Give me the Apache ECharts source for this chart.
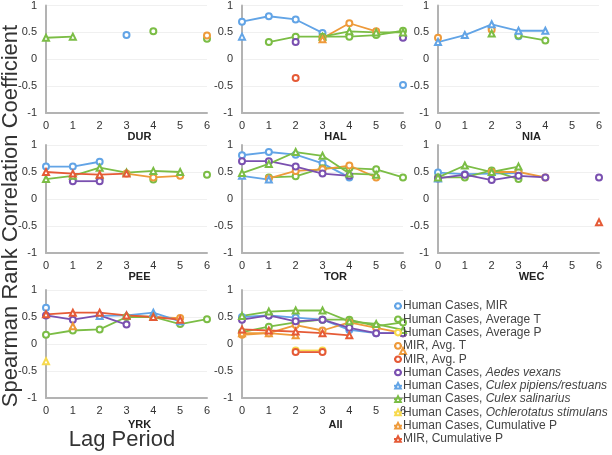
<!DOCTYPE html>
<html>
<head>
<meta charset="utf-8">
<title>Spearman lag panels</title>
<script src="https://cdn.jsdelivr.net/npm/echarts@6/dist/echarts.min.js"></script>
<style>
  html, body { margin: 0; padding: 0; background: #fff; }
  #chart { width: 612px; height: 455px; }
</style>
</head>
<body>
<div id="chart"></div>
<script>
// panels: DUR, HAL, NIA, PEE, TOR, WEC, YRK, All ; columns = lag 0..6
var panels = ['DUR', 'HAL', 'NIA', 'PEE', 'TOR', 'WEC', 'YRK', 'All'];
var lags = [0, 1, 2, 3, 4, 5, 6];
var n = null;

// circles
var hcMIR = [
  [n, n, n, 0.45, n, n, n],
  [0.70, 0.80, 0.74, 0.49, n, n, -0.48],
  [n, n, n, 0.43, n, n, n],
  [0.60, 0.60, 0.69, n, n, n, n],
  [0.81, 0.87, 0.82, 0.66, 0.40, n, n],
  [0.49, 0.46, 0.47, 0.48, n, n, n],
  [0.67, n, n, n, n, n, n],
  [0.50, 0.53, 0.49, 0.45, 0.26, 0.20, 0.20]
];
var hcAvgT = [
  [n, n, n, n, 0.52, n, 0.38],
  [n, 0.32, 0.42, 0.42, 0.42, 0.45, 0.53],
  [n, n, n, 0.44, 0.35, n, n],
  [n, n, 0.38, n, 0.36, n, 0.45],
  [n, 0.40, 0.42, 0.57, 0.57, 0.55, 0.40],
  [0.40, 0.40, 0.53, 0.37, n, n, n],
  [0.17, 0.25, 0.27, 0.50, 0.50, 0.37, 0.46],
  [0.22, 0.32, 0.40, 0.45, 0.45, 0.33, 0.40]
];
var hcAvgP = [
  [n, n, n, n, n, n, n],
  [n, n, n, n, n, n, n],
  [n, n, n, n, n, n, n],
  [n, n, n, n, n, n, n],
  [n, n, n, n, n, n, n],
  [n, n, n, n, n, n, n],
  [n, n, n, n, n, n, n],
  [n, n, -0.12, -0.12, n, n, n]
];
var mirAvgT = [
  [n, n, n, n, n, n, 0.44],
  [n, n, n, 0.39, 0.67, 0.52, n],
  [0.40, n, 0.55, n, n, n, n],
  [n, n, n, 0.47, 0.40, 0.43, n],
  [n, 0.38, 0.52, 0.55, 0.62, 0.40, n],
  [n, n, 0.50, 0.50, 0.40, n, n],
  [n, n, n, n, 0.50, 0.48, n],
  [0.17, 0.20, 0.35, 0.25, 0.40, 0.30, 0.20]
];
var mirAvgP = [
  [n, n, n, n, n, n, n],
  [n, n, -0.35, n, n, n, n],
  [n, n, n, n, n, n, n],
  [n, n, n, n, n, n, n],
  [n, n, n, n, n, n, n],
  [n, n, n, n, n, n, n],
  [n, n, n, n, n, n, n],
  [n, n, -0.15, -0.15, n, n, n]
];
var hcAedes = [
  [n, n, n, n, n, n, n],
  [n, n, 0.32, n, n, n, 0.40],
  [n, n, n, n, n, n, n],
  [n, 0.33, 0.33, n, n, n, n],
  [0.70, 0.70, 0.60, 0.47, 0.43, n, n],
  [0.38, 0.45, 0.35, 0.43, 0.40, n, 0.40],
  [0.53, 0.45, 0.53, 0.36, n, n, n],
  [0.45, 0.53, 0.42, 0.45, 0.30, 0.20, 0.20]
];
// triangles
var hcCulexPip = [
  [n, n, n, n, n, n, n],
  [0.42, n, n, n, n, n, n],
  [0.32, 0.45, 0.65, 0.53, 0.53, n, n],
  [n, n, n, n, n, n, n],
  [0.43, 0.36, n, n, n, n, n],
  [0.38, n, n, n, n, n, n],
  [n, n, 0.52, 0.53, 0.58, 0.42, n],
  [n, n, n, n, n, n, n]
];
var hcCulexSal = [
  [0.40, 0.42, n, n, n, n, n],
  [n, n, n, 0.42, 0.52, 0.50, 0.50],
  [n, n, 0.48, n, n, n, n],
  [0.37, 0.43, 0.58, 0.49, 0.52, 0.50, n],
  [0.48, 0.65, 0.87, 0.80, 0.47, 0.45, n],
  [0.40, 0.62, 0.50, 0.60, n, n, n],
  [n, n, n, 0.52, 0.50, n, n],
  [0.52, 0.60, 0.62, 0.62, 0.42, 0.37, 0.26]
];
var hcOchl = [
  [n, n, n, n, n, n, n],
  [n, n, n, n, n, n, n],
  [n, n, n, n, n, n, n],
  [n, n, n, n, n, n, n],
  [n, n, n, n, n, n, n],
  [n, n, n, n, n, n, n],
  [-0.32, n, n, n, n, n, n],
  [n, n, n, n, n, n, n]
];
var hcCumP = [
  [n, n, n, n, n, n, n],
  [n, n, n, 0.37, n, n, n],
  [n, n, n, n, n, n, n],
  [n, n, n, n, n, n, n],
  [n, n, n, n, n, n, n],
  [n, n, n, n, n, n, n],
  [n, 0.33, n, n, n, n, n],
  [0.20, 0.20, 0.16, n, n, n, -0.13]
];
var mirCumP = [
  [n, n, n, n, n, n, n],
  [n, n, n, n, n, n, n],
  [n, n, n, n, n, n, n],
  [0.50, 0.47, 0.45, 0.47, n, n, n],
  [n, n, n, n, n, n, n],
  [n, n, n, n, n, n, -0.43],
  [0.55, 0.58, 0.58, 0.53, 0.50, 0.45, n],
  [0.27, 0.25, 0.23, 0.20, 0.16, n, n]
];

var BLUE = '#62a4e6', GREEN = '#7bbd45', YELLOW = '#f7d94c', ORANGE = '#ee9a3a', RED = '#e55a36', PURPLE = '#7a50b0';

var seriesDefs = [
  { name: 'Human Cases, MIR', data: hcMIR, color: BLUE, sym: 'emptyCircle' },
  { name: 'Human Cases, Average T', data: hcAvgT, color: GREEN, sym: 'emptyCircle' },
  { name: 'Human Cases, Average P', data: hcAvgP, color: YELLOW, sym: 'emptyCircle' },
  { name: 'MIR, Avg. T', data: mirAvgT, color: ORANGE, sym: 'emptyCircle' },
  { name: 'MIR, Avg. P', data: mirAvgP, color: RED, sym: 'emptyCircle' },
  { name: 'Human Cases, Aedes vexans', data: hcAedes, color: PURPLE, sym: 'emptyCircle' },
  { name: 'Human Cases, Culex pipiens/restuans', data: hcCulexPip, color: BLUE, sym: 'emptyTriangle' },
  { name: 'Human Cases, Culex salinarius', data: hcCulexSal, color: GREEN, sym: 'emptyTriangle' },
  { name: 'Human Cases, Ochlerotatus stimulans', data: hcOchl, color: YELLOW, sym: 'emptyTriangle' },
  { name: 'Human Cases, Cumulative P', data: hcCumP, color: ORANGE, sym: 'emptyTriangle' },
  { name: 'MIR, Cumulative P', data: mirCumP, color: RED, sym: 'emptyTriangle' }
];
var italicPart = {
  'Human Cases, Aedes vexans': 'Aedes vexans',
  'Human Cases, Culex pipiens/restuans': 'Culex pipiens/restuans',
  'Human Cases, Culex salinarius': 'Culex salinarius',
  'Human Cases, Ochlerotatus stimulans': 'Ochlerotatus stimulans'
};

var colLeft = [46, 242, 438];
var rowTop = [5, 145, 290];
var W = 161, H = 108;
var FONT = 'Helvetica, "Liberation Sans", Arial, sans-serif';

var grids = [], xAxes = [], yAxes = [], series = [], graphics = [];

panels.forEach(function (p, i) {
  var c = i % 3, r = Math.floor(i / 3);
  grids.push({ left: colLeft[c], top: rowTop[r], width: W, height: H });
  xAxes.push({
    gridIndex: i, type: 'value', min: 0, max: 6, interval: 1,
    axisLine: { onZero: false, lineStyle: { color: '#b3b3b3', width: 2 } },
    axisTick: { show: false },
    splitLine: { show: false },
    axisLabel: { color: '#333', fontSize: 11, margin: 7, fontFamily: FONT }
  });
  yAxes.push({
    gridIndex: i, type: 'value', min: -1, max: 1, interval: 0.5,
    axisLine: { show: true, lineStyle: { color: '#b3b3b3', width: 2 } },
    axisTick: { show: false },
    splitLine: { lineStyle: { color: '#f0f0f0', width: 1 } },
    axisLabel: { color: '#333', fontSize: 11, margin: 9, fontFamily: FONT }
  });
  seriesDefs.forEach(function (s) {
    series.push({
      name: s.name, type: 'line', xAxisIndex: i, yAxisIndex: i,
      data: lags.map(function (l, k) { var v = s.data[i][k]; return [l, v === null ? '-' : v]; }),
      symbol: s.sym, symbolSize: 6,
      lineStyle: { color: s.color, width: 1.8 },
      itemStyle: { color: s.color, borderWidth: 1.8 },
      emphasis: { disabled: true }
    });
  });
  graphics.push({
    type: 'text', x: colLeft[c] + W / 2 + 13, y: rowTop[r] + H + (r === 2 ? 27 : 24),
    style: { text: p, font: 'bold 11px ' + FONT, fill: '#222', align: 'center', verticalAlign: 'middle', textAlign: 'center', textVerticalAlign: 'middle' }
  });
});

graphics.push({
  type: 'text', x: 11, y: 216, rotation: Math.PI / 2,
  style: { text: 'Spearman Rank Correlation Coefficient', font: '22px ' + FONT, fill: '#333', align: 'center', verticalAlign: 'middle', textAlign: 'center', textVerticalAlign: 'middle' }
});
graphics.push({
  type: 'text', x: 122, y: 440,
  style: { text: 'Lag Period', font: '22px ' + FONT, fill: '#333', align: 'center', verticalAlign: 'middle', textAlign: 'center', textVerticalAlign: 'middle' }
});

var chart = echarts.init(document.getElementById('chart'));
chart.setOption({
  animation: false,
  backgroundColor: '#fff',
  grid: grids,
  xAxis: xAxes,
  yAxis: yAxes,
  series: series,
  graphic: graphics,
  legend: {
    orient: 'vertical', left: 388, top: 295,
    itemWidth: 8, itemHeight: 7, itemGap: 1.3,
    data: seriesDefs.map(function (s) { return s.name; }),
    formatter: function (name) {
      var it = italicPart[name];
      if (it) return '{n|Human Cases, }{i|' + it + '}';
      return '{n|' + name + '}';
    },
    textStyle: {
      color: '#444', fontSize: 12, fontFamily: FONT, padding: [0, 0, 0, -4],
      rich: {
        n: { fontSize: 12, color: '#444', fontFamily: FONT, lineHeight: 13 },
        i: { fontSize: 12, color: '#444', fontStyle: 'italic', fontFamily: FONT, lineHeight: 13 }
      }
    }
  }
});
</script>
</body>
</html>
